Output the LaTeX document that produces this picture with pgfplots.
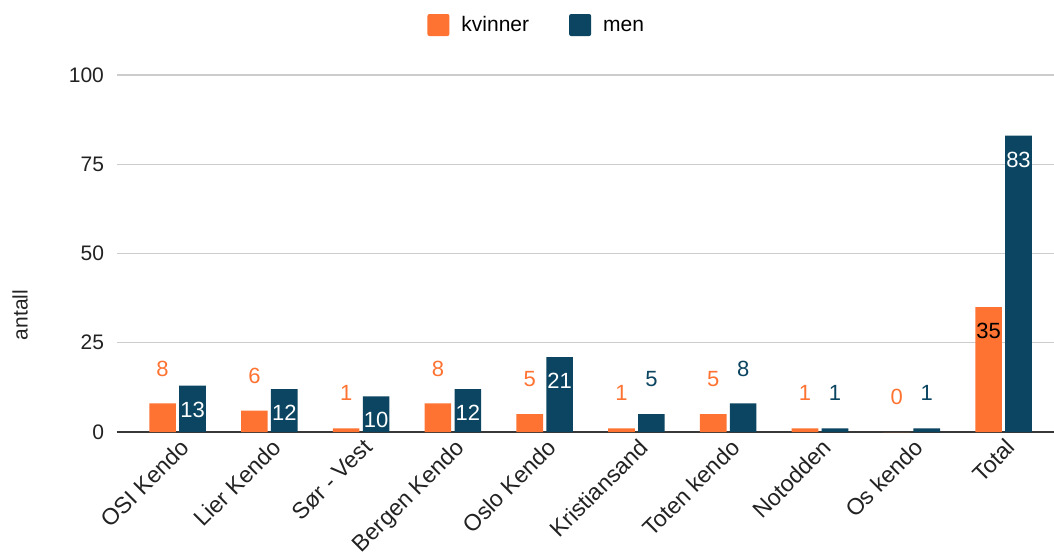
\documentclass[border=0pt]{standalone}
\usepackage{pgfplots}
\pgfplotsset{compat=1.18}
\usepackage{fontspec}
\setmainfont{Liberation Sans}
\definecolor{kv}{HTML}{FF7332}
\definecolor{mn}{HTML}{0B4561}
\definecolor{gridc}{HTML}{CCCCCC}
\definecolor{txt}{HTML}{222222}
\begin{document}
\begin{tikzpicture}[font=\fontsize{10.5}{12}\selectfont]
\begin{axis}[
    name=ax,
    scale only axis,
    width=468.5pt, height=178.5pt,
    ymin=0, ymax=100,
    ytick={0,25,50,75,100},
    xmin=-0.66, xmax=9.55,
    xtick={0,...,9},
    xticklabels={OSI Kendo, Lier Kendo, Sør - Vest, Bergen Kendo, Oslo Kendo, Kristiansand, Toten kendo, Notodden, Os kendo, Total},
    xticklabel style={rotate=45, anchor=north east, text=txt, font=\fontsize{11.5}{13}\selectfont, xshift=2pt, yshift=1.2pt},
    yticklabel style={text=txt, xshift=-3pt},
    /pgf/number format/assume math mode=true,
    major tick length=0pt,
    axis x line*=bottom,
    axis y line*=left,
    y axis line style={draw=none},
    x axis line style={draw=txt!90, line width=1pt, -},
    ymajorgrids,
    grid style={gridc, line width=0.6pt},
    ylabel={antall},
    ylabel style={at={(axis description cs:-0.1035,0.328)}, anchor=center, text=txt},
    legend style={at={(0.449,1.14)}, anchor=center, draw=none, legend columns=2,
        nodes={text height=1.6ex, text depth=0.3ex},
        /tikz/every even column/.append style={column sep=18pt}},
    legend image code/.code={\fill[#1, rounded corners=1pt] (0pt,-5.5pt) rectangle (11pt,5.5pt);},
    legend cell align=left,
    bar width=0.29,
]
% bars
\addplot[ybar, bar shift=-0.163, fill=kv, draw=none] coordinates {
    (0,8) (1,6) (2,1) (3,8) (4,5) (5,1) (6,5) (7,1) (8,0) (9,35)};
\addlegendentry{\hspace{4pt}kvinner}
\addplot[ybar, bar shift=0.163, fill=mn, draw=none] coordinates {
    (0,13) (1,12) (2,10) (3,12) (4,21) (5,5) (6,8) (7,1) (8,1) (9,83)};
\addlegendentry{\hspace{4pt}men}
% value labels (x shifted by the bar shift)
\addplot[forget plot, draw=none, mark=none, sharp plot,
    nodes near coords, every node near coord/.style={text=kv, anchor=center, yshift=17.5pt, font=\fontsize{11}{12}\selectfont}]
    coordinates {(-0.163,8) (0.837,6) (1.837,1) (2.837,8) (3.837,5) (4.837,1) (5.837,5) (6.837,1) (7.837,0)};
\addplot[forget plot, draw=none, mark=none, sharp plot,
    nodes near coords, every node near coord/.style={text=mn, anchor=center, yshift=17.5pt, font=\fontsize{11}{12}\selectfont}]
    coordinates {(5.163,5) (6.163,8) (7.163,1) (8.163,1)};
\addplot[forget plot, draw=none, mark=none, sharp plot,
    nodes near coords, every node near coord/.style={text=black, anchor=center, yshift=-12pt, font=\fontsize{11}{12}\selectfont}]
    coordinates {(8.837,35)};
\addplot[forget plot, draw=none, mark=none, sharp plot,
    nodes near coords, every node near coord/.style={text=white, anchor=center, yshift=-12pt, font=\fontsize{11}{12}\selectfont}]
    coordinates {(0.163,13) (1.163,12) (2.163,10) (3.163,12) (4.163,21) (9.163,83)};
\end{axis}
\pgfresetboundingbox
\path[use as bounding box] ([xshift=-58.5pt,yshift=-62pt]ax.south west) rectangle ([yshift=37.5pt]ax.north east);
\end{tikzpicture}
\end{document}
